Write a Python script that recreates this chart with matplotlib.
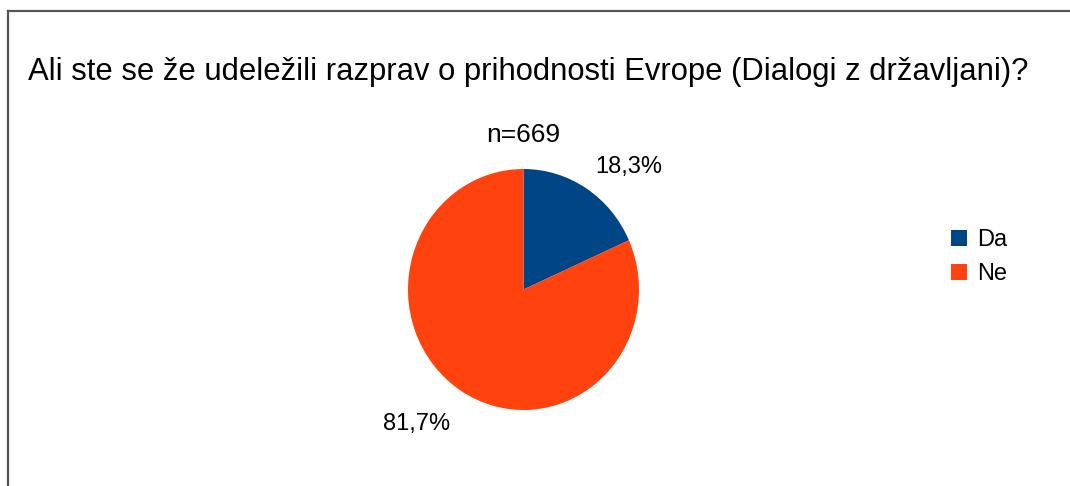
import matplotlib.pyplot as plt
from matplotlib.lines import Line2D

# Podatki
kategorije = ["Da", "Ne"]
odstotki = [18.3, 81.7]
barve = ["#004586", "#ff420e"]
naslov = "Ali ste se že udeležili razprav o prihodnosti Evrope (Dialogi z državljani)?"
n_text = "n=669"

plt.rcParams['font.family'] = ['Liberation Sans', 'DejaVu Sans']

W, H = 1070, 486
fig = plt.figure(figsize=(W / 100, H / 100), dpi=100)

# okvir (samo levo in zgoraj)
fig.add_artist(Line2D([8 / W, 8 / W], [0, 1 - 11 / H], color="#555555", lw=1.6))
fig.add_artist(Line2D([8 / W, 1], [1 - 11 / H, 1 - 11 / H], color="#555555", lw=1.6))

fig.text(28 / W, 1 - 72 / H, naslov, fontsize=22.3, va="center", ha="left")

# tortni diagram (v sliki je rahlo raztegnjen navpicno)
cx, cy, rx, ry = 523.5, 289.5, 115.5, 120.5
ax = fig.add_axes([(cx - rx) / W, (H - cy - ry) / H, 2 * rx / W, 2 * ry / H])
oznake = [f"{v:.1f}%".replace(".", ",") for v in odstotki]
wedges, texts = ax.pie(odstotki, colors=barve, startangle=90, counterclock=False,
                       labels=oznake, labeldistance=1.15,
                       wedgeprops=dict(linewidth=0),
                       textprops=dict(fontsize=17))
for t in texts:
    x, y = t.get_position()
    if y > 0:
        t.set_va("baseline")
    else:
        t.set_va("top")
        t.set_position((x * 1.02, y * 1.06))
ax.set_xlim(-1, 1)
ax.set_ylim(-1, 1)
ax.set_aspect("auto")

fig.text(cx / W, 1 - 135 / H, n_text, fontsize=19, ha="center", va="center")

fig.legend(wedges, kategorije, loc="upper left", bbox_to_anchor=(930 / W, 1 - 208 / H),
           frameon=False, fontsize=17, handlelength=0.65, handleheight=0.65,
           handletextpad=0.45, labelspacing=0.5)

fig.savefig("out.png", dpi=100)
